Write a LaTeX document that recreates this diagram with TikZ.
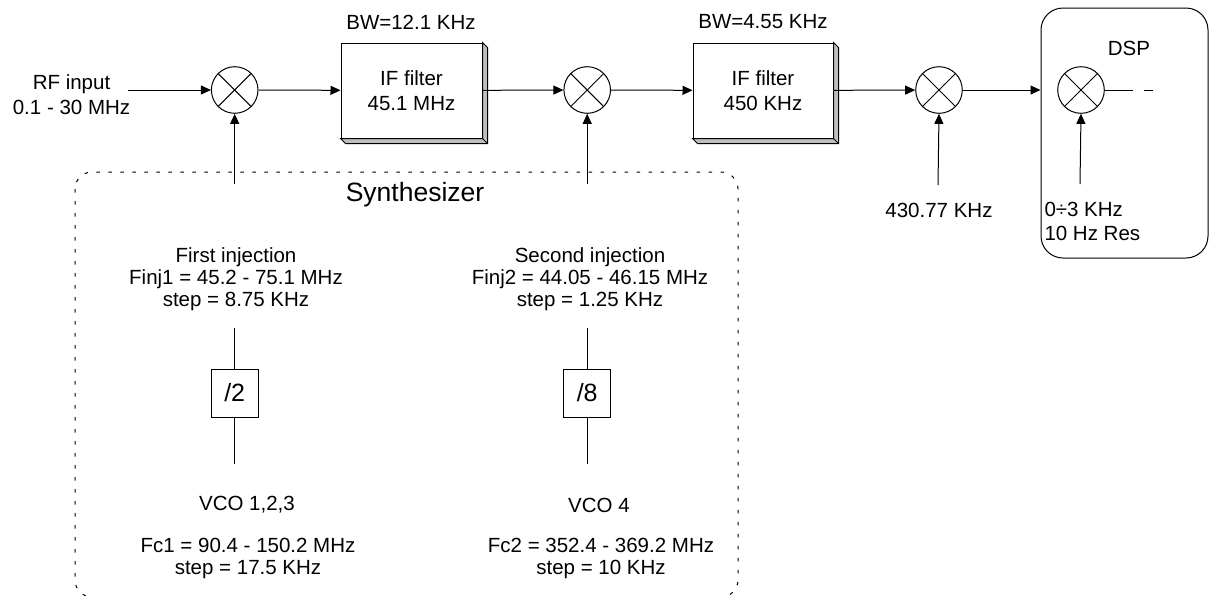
\documentclass[tikz,border=0pt]{standalone}
\usepackage{fontspec}
\setmainfont{Liberation Sans}
\usetikzlibrary{arrows.meta}

\tikzset{
	mixer/.style={draw, circle, minimum size=46.6pt, inner sep=0pt,
		path picture={
			\draw (path picture bounding box.north west) -- (path picture bounding box.south east)
			      (path picture bounding box.north east) -- (path picture bounding box.south west);
		}},
	filter/.style={draw, fill=white, minimum width=141pt, minimum height=95pt,
		inner sep=0pt, align=center, font=\fontsize{20.5}{25}\selectfont},
	divider/.style={draw, minimum width=47pt, minimum height=48pt, inner sep=0pt,
		font=\fontsize{25}{30}\selectfont},
	lbl/.style={align=center, inner sep=0pt},
	sig/.style={-{Triangle[length=10pt, width=9pt]}},
}

\begin{document}
\begin{tikzpicture}[x=1pt, y=-1pt, line width=1pt, font=\fontsize{20.5}{22}\selectfont]
	\useasboundingbox (0,0) rectangle (1210,595);
	
	% synthesizer frame
	\draw[dash pattern=on 3.5pt off 8.5pt, rounded corners=17pt] (75,172) rectangle (738,597);
	\node[lbl, font=\fontsize{26.5}{30}\selectfont] (synth) at (415,195) {Synthesizer};
	
	% mixers
	\foreach \n/\x in {mix1/234.7, mix2/587.2, mix3/939, mix4/1081}{
		\node[mixer] (\n) at (\x,90) {};
	}
	
	% filters with 3d side
	\node[filter] (filt1) at (411.5,90.5) {IF filter\\45.1 MHz};
	\node[filter, minimum width=140pt] (filt2) at (763,90.5) {IF filter\\450 KHz};
	\foreach \f in {filt1, filt2}{
		\filldraw[fill=gray!50] (\f.north east) -- ++(5,5) -- ([shift={(5,5)}]\f.south east)
			-- ([shift={(5,5)}]\f.south west) -- (\f.south west) -- (\f.south east) -- cycle
			(\f.south east) -- ([shift={(5,5)}]\f.south east);
	}
	\node[lbl] (bw1) at (411,22) {BW=12.1 KHz};
	\node[lbl] (bw2) at (763,22) {BW=4.55 KHz};
	
	% DSP block
	\node[draw, rounded corners=22pt, minimum width=167pt, minimum height=250pt] (dsp) at (1124.5,133) {};
	\node[lbl] (dsplbl) at (1129,48) {DSP};
	
	% signal chain
	\node[lbl, font=\fontsize{20.5}{25}\selectfont] (rf) at (71.5,94.5) {RF input\\0.1 - 30 MHz};
	\coordinate (rfin) at (128,90);
	\draw[sig] (rfin) -- (mix1);
	\draw[sig] (mix1) -- (filt1);
	\draw[sig] (filt1) -- (mix2);
	\draw[sig] (mix2) -- (filt2);
	\draw[sig] (filt2) -- (mix3);
	\draw[sig] (mix3) -- (mix3 -| dsp.west);
	\coordinate (out) at (1153,90);
	\draw[dash pattern=on 28pt off 11pt on 10pt off 100pt] (mix4) -- (out);
	
	% local oscillators
	\coordinate (lo1) at (234.7,184);
	\coordinate (lo2) at (587.2,184);
	\coordinate (lo3) at (938,185);
	\coordinate (lo4) at (1080,184);
	\draw[sig] (lo1) -- (mix1.south);
	\draw[sig] (lo2) -- (mix2.south);
	\draw[sig] (lo3) -- (mix3.south);
	\draw[sig] (lo4) -- (mix4.south);
	\node[lbl] (lo3lbl) at (939,210) {430.77 KHz};
	\node[lbl, align=left, anchor=west, font=\fontsize{20.5}{24}\selectfont] (lo4lbl) at (1044,221) {0÷3 KHz\\10 Hz Res};
	
	% injection chains
	\node[lbl] (inj1) at (236,279) {First injection\\Finj1 = 45.2 - 75.1 MHz\\step = 8.75 KHz};
	\node[lbl] (inj2) at (590,279) {Second injection\\Finj2 = 44.05 - 46.15 MHz\\step = 1.25 KHz};
	\node[divider] (div1) at (234.7,393) {/2};
	\node[divider] (div2) at (587.2,393) {/8};
	\coordinate (inj1bot) at (234.7,328);
	\coordinate (inj2bot) at (587.2,328);
	\coordinate (vco1top) at (234.7,464);
	\coordinate (vco2top) at (587.2,464);
	\draw (inj1bot) -- (div1) -- (vco1top);
	\draw (inj2bot) -- (div2) -- (vco2top);
	\node[lbl] (vco1) at (247,505) {VCO 1,2,3};
	\node[lbl] (vco2) at (599,505) {VCO 4};
	\node[lbl] (fc1) at (248,558) {Fc1 = 90.4 - 150.2 MHz\\step = 17.5 KHz};
	\node[lbl] (fc2) at (601,558) {Fc2 = 352.4 - 369.2 MHz\\step = 10 KHz};
\end{tikzpicture}
\end{document}
